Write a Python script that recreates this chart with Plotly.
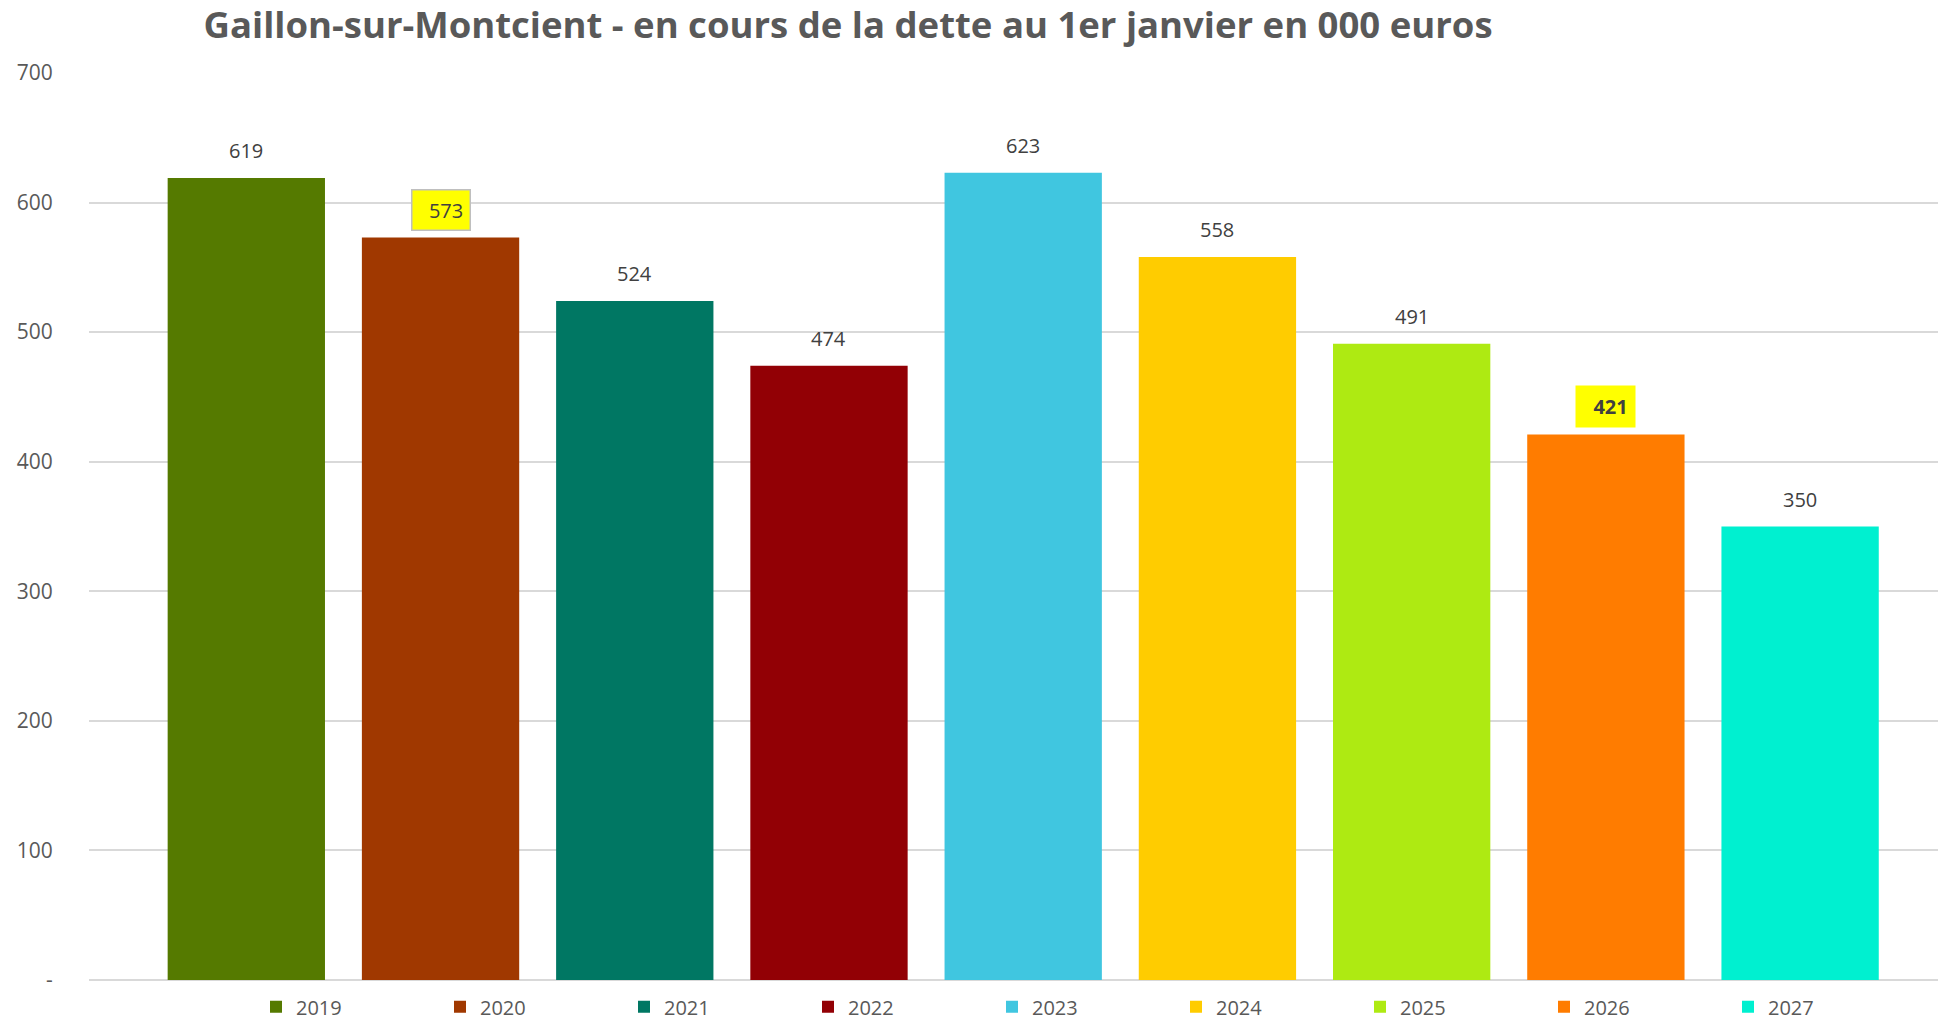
import plotly.graph_objects as go

years = ["2019", "2020", "2021", "2022", "2023", "2024", "2025", "2026", "2027"]
values = [619, 573, 524, 474, 623, 558, 491, 421, 350]
colors = ["#557A00", "#A03800", "#007763", "#920005", "#40C6E0",
          "#FFCC00", "#AEEA12", "#FF7C00", "#00F0D0"]
tick_vals = [0, 100, 200, 300, 400, 500, 600, 700]
tick_text = ["-", "100", "200", "300", "400", "500", "600", "700"]
highlight = {"2020": "box", "2026": "bold"}

FONT = "Open Sans"
GREY = "#595959"

fig = go.Figure()
for yr, v, c in zip(years, values, colors):
    fig.add_trace(go.Bar(x=[yr], y=[v], name=yr, marker=dict(color=c, line=dict(width=0))))

annotations = []
for i, (yr, v) in enumerate(zip(years, values)):
    kind = highlight.get(yr)
    kw = dict(x=i, y=v, xref="x", yref="y", showarrow=False, yanchor="bottom", yshift=12,
              font=dict(family=FONT, size=20, color="#404040"))
    if kind == "box":
        kw.update(text="&nbsp;&nbsp;" + str(v), bgcolor="#FFFF00", bordercolor="#BFBFBF",
                  borderwidth=1.5, borderpad=6, yshift=7)
    elif kind == "bold":
        kw.update(text="&nbsp;&nbsp;<b>" + str(v) + "</b>", bgcolor="#FFFF00",
                  borderpad=7, yshift=7)
    else:
        kw.update(text=str(v))
    annotations.append(kw)

fig.update_layout(
    width=1938, height=1020,
    margin=dict(l=89, r=0, t=73, b=40, autoexpand=False),
    paper_bgcolor="white", plot_bgcolor="white",
    barmode="overlay", bargap=0.19,
    title=dict(text="<b>Gaillon-sur-Montcient - en cours de la dette au 1er janvier en 000 euros</b>",
               x=0.4376, xref="container", xanchor="center",
               y=0.975, yref="container", yanchor="middle",
               font=dict(family=FONT, size=36.5, color=GREY)),
    font=dict(family=FONT, color=GREY),
    showlegend=True,
    annotations=annotations,
    legend=dict(orientation="h", x=(256 - 89) / 1849, xanchor="left",
                y=-0.008, yanchor="top",
                entrywidth=139, entrywidthmode="pixels",
                font=dict(family=FONT, size=20, color=GREY)),
)
fig.update_xaxes(type="category", categoryorder="array", categoryarray=years,
                 range=[-0.81, 8.71], showticklabels=False, showgrid=False,
                 zeroline=False, showline=False, ticks="")
fig.update_yaxes(range=[0, 700], tickvals=tick_vals, ticktext=tick_text,
                 showgrid=True, gridcolor="#D9D9D9", gridwidth=1.5,
                 zeroline=True, zerolinecolor="#D9D9D9", zerolinewidth=1.5,
                 ticks="outside", ticklen=31, tickcolor="rgba(0,0,0,0)",
                 tickfont=dict(family=FONT, size=21, color=GREY))

fig.write_html("out.html", config={"displayModeBar": False},
               post_script="document.body.style.margin='0px';")
